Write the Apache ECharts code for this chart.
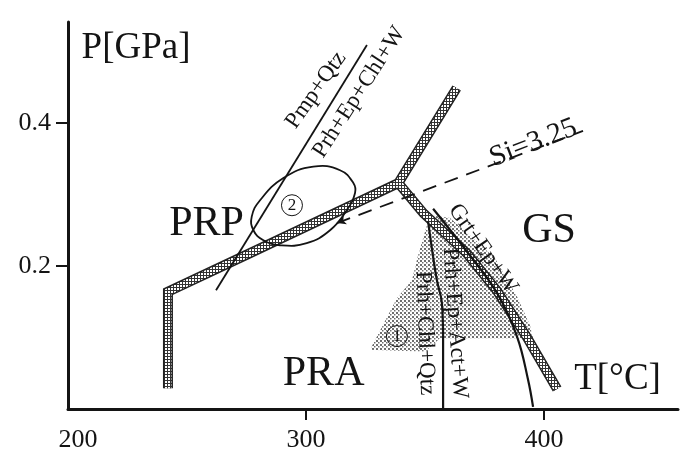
<!DOCTYPE html>
<html><head><meta charset="utf-8">
<script src="https://cdn.jsdelivr.net/npm/echarts@6/dist/echarts.min.js"></script>
<style>html,body{margin:0;padding:0;background:#fff}#c{width:688px;height:454px}</style>
</head><body><div id="c"></div>
<script>
// ---- axis ticks / labels ----
const X_LABELS = [200, 300, 400];
const X_TICKS = [300, 400];
const Y_LABELS = [0.2, 0.4];
const Y_TICKS = [0.2, 0.4];

// ---- thick reaction band (T in °C, P in GPa) ----
const BAND_MAIN_T = [242, 242, 276.5, 338.8, 363.3];
const BAND_MAIN_P = [0.029, 0.164, 0.218, 0.316, 0.449];
const BAND_BRANCH_T = [338.8, 349.3, 367.5, 380.1, 392.7, 405.5];
const BAND_BRANCH_P = [0.316, 0.274, 0.218, 0.166, 0.101, 0.028];

// ---- thin reaction lines ----
const PMP_T = [262.2, 325.6];
const PMP_P = [0.166, 0.509];
const SI_T = [313, 416.4];
const SI_P = [0.260, 0.389];
const PRH_CHL_T = [351.3, 353.4, 355.0, 357.1, 357.6, 357.6];
const PRH_CHL_P = [0.262, 0.213, 0.180, 0.148, 0.097, 0.0];
const GRT_T = [353.4, 367.2, 380.3, 388.7, 393.3, 395.4];
const GRT_P = [0.280, 0.222, 0.162, 0.101, 0.041, 0.003];

// ---- field ② outline ----
const ELLIPSE_T = [290.5, 303.1, 314.3, 319.9, 320.6, 317.1, 310.1, 300.3, 289.1, 282.1, 277.9, 277.2, 280.7];
const ELLIPSE_P = [0.323, 0.339, 0.334, 0.316, 0.302, 0.278, 0.250, 0.232, 0.229, 0.236, 0.250, 0.269, 0.292];

// ---- field ① stippled area ----
const FIELD_T = [352.1, 360.5, 368.9, 379.4, 388.7, 394.1, 395.4, 356.3, 350.0, 326.9, 338.2, 344.5, 347.1, 350.0];
const FIELD_P = [0.271, 0.267, 0.243, 0.211, 0.157, 0.117, 0.099, 0.099, 0.080, 0.083, 0.155, 0.180, 0.215, 0.248];

// ---- text labels ----
const LABEL_TEXT = ['P[GPa]', 'T[°C]', 'PRP', 'PRA', 'GS', 'Si=3.25', 'Pmp+Qtz', 'Prh+Ep+Chl+W', 'Grt+Ep+W', 'Prh+Chl+Qtz', 'Prh+Ep+Act+W'];
const LABEL_T = [228.6, 430.9, 258.2, 307.4, 402.1, 395.5, 304.2, 322.3, 374.4, 350.0, 362.6];
const LABEL_P = [0.505, 0.041, 0.259, 0.049, 0.249, 0.372, 0.446, 0.443, 0.224, 0.106, 0.120];
const MARK_TEXT = ['1', '2'];
const MARK_T = [338.2, 294.1];
const MARK_P = [0.102, 0.285];

const FONT = "'Liberation Serif', 'Times New Roman', serif";
const INK = '#141414';

function zip(a, b) { return a.map((v, i) => [v, b[i]]); }

function bandPattern() {
  const c = document.createElement('canvas');
  c.width = 3; c.height = 3;
  const g = c.getContext('2d');
  g.fillStyle = '#333333'; g.fillRect(0, 0, 3, 3);
  g.fillStyle = '#ffffff'; g.fillRect(0, 0, 2, 2);
  return { image: c, repeat: 'repeat' };
}
function stipplePattern() {
  const c = document.createElement('canvas');
  c.width = 4; c.height = 4;
  const g = c.getContext('2d');
  g.fillStyle = '#6e6e6e';
  g.fillRect(0, 0, 2, 2);
  g.fillRect(2, 2, 1.5, 1.5);
  return { image: c, repeat: 'repeat' };
}

const labelStyles = [
  { fontSize: 37, rotate: 0 },
  { fontSize: 37, rotate: 0 },
  { fontSize: 42, rotate: 0 },
  { fontSize: 42, rotate: 0 },
  { fontSize: 42, rotate: 0 },
  { fontSize: 29, rotate: 21 },
  { fontSize: 23, rotate: 55 },
  { fontSize: 23, rotate: 57 },
  { fontSize: 23, rotate: -55 },
  { fontSize: 23, rotate: -88 },
  { fontSize: 23, rotate: -86 }
];

function polySeries(ts, ps, style, smooth, z) {
  return {
    type: 'custom', z: z, silent: true,
    data: [0],
    renderItem: function (params, api) {
      const pts = ts.map((t, i) => api.coord([t, ps[i]]));
      return { type: 'polygon', shape: { points: pts, smooth: smooth }, style: style };
    }
  };
}

function lineSeries(ts, ps, color, width, z, extra) {
  return Object.assign({
    type: 'line', z: z, silent: true, showSymbol: false, symbol: 'none',
    data: zip(ts, ps),
    lineStyle: { color: color, width: width, cap: 'butt', join: 'miter' }
  }, extra || {});
}

const chart = echarts.init(document.getElementById('c'), null, { renderer: 'canvas' });
const option = {
  animation: false,
  backgroundColor: '#fff',
  grid: { left: 68, right: 10, top: 22, bottom: 45 },
  xAxis: {
    type: 'value', min: 200, max: 456.3,
    splitLine: { show: false },
    axisLine: { lineStyle: { color: INK, width: 3 } },
    axisTick: { customValues: X_TICKS, length: 11, lineStyle: { color: INK, width: 2 } },
    axisLabel: {
      customValues: X_LABELS, margin: 18, color: INK, fontFamily: FONT, fontSize: 26,
      formatter: v => v === 200 ? '{a|200}' : String(v),
      rich: { a: { padding: [0, 0, 0, 20], color: INK, fontFamily: FONT, fontSize: 26 } }
    }
  },
  yAxis: {
    type: 'value', min: 0, max: 0.5413,
    splitLine: { show: false },
    axisLine: { lineStyle: { color: INK, width: 3 } },
    axisTick: { customValues: Y_TICKS, length: 12, lineStyle: { color: INK, width: 2 } },
    axisLabel: { customValues: Y_LABELS, margin: 17, color: INK, fontFamily: FONT, fontSize: 26,
      formatter: v => v.toFixed(1) }
  },
  series: [
    polySeries(FIELD_T, FIELD_P, { fill: stipplePattern(), stroke: null }, 0, 1),
    lineSeries(BAND_MAIN_T, BAND_MAIN_P, '#222', 10, 2),
    lineSeries(BAND_BRANCH_T, BAND_BRANCH_P, '#222', 10, 2),
    lineSeries(BAND_MAIN_T, BAND_MAIN_P, bandPattern(), 7, 3),
    lineSeries(BAND_BRANCH_T, BAND_BRANCH_P, bandPattern(), 7, 3),
    lineSeries(PMP_T, PMP_P, INK, 1.8, 4),
    lineSeries(PRH_CHL_T, PRH_CHL_P, INK, 2.2, 4, { smooth: 0.4 }),
    lineSeries(GRT_T, GRT_P, INK, 2.2, 4, { smooth: 0.4 }),
    {
      type: 'line', z: 4, silent: true, showSymbol: false, symbol: 'none', data: [],
      markLine: {
        silent: true, animation: false, label: { show: false },
        lineStyle: { color: INK, width: 1.8, type: [14, 9] },
        data: [[
          { coord: [SI_T[0], SI_P[0]], symbol: 'arrow', symbolSize: [7, 9] },
          { coord: [SI_T[1], SI_P[1]], symbol: 'none' }
        ]]
      }
    },
    polySeries(ELLIPSE_T, ELLIPSE_P, { fill: 'none', stroke: INK, lineWidth: 1.8 }, 0.45, 4),
    {
      type: 'scatter', z: 5, silent: true, symbolSize: 21, symbol: 'circle',
      itemStyle: { color: 'rgba(255,255,255,0)', borderColor: INK, borderWidth: 1, opacity: 1 },
      data: MARK_T.map((t, i) => ({ value: [t, MARK_P[i]], name: MARK_TEXT[i] })),
      label: { show: true, position: 'inside', formatter: p => p.name, color: INK, fontFamily: FONT, fontSize: 17 }
    },
    {
      type: 'scatter', z: 6, silent: true, symbolSize: 0,
      itemStyle: { opacity: 1 },
      data: LABEL_TEXT.map((txt, i) => ({
        value: [LABEL_T[i], LABEL_P[i]], name: txt,
        label: { fontSize: labelStyles[i].fontSize, rotate: labelStyles[i].rotate }
      })),
      label: { show: true, position: 'inside', align: 'center', verticalAlign: 'middle',
        formatter: p => p.name, color: INK, fontFamily: FONT, opacity: 1 }
    }
  ]
};
chart.setOption(option);
</script>
</body></html>
